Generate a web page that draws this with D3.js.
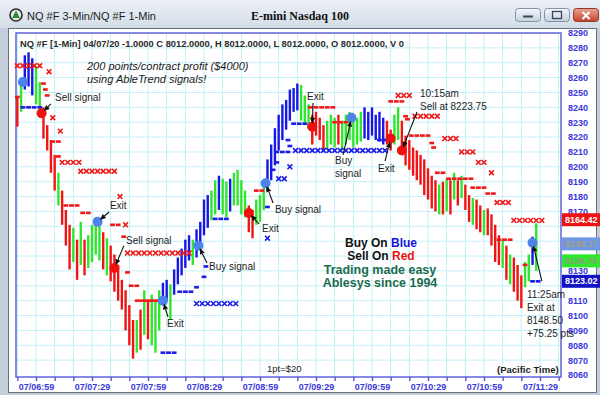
<!DOCTYPE html>
<html>
<head>
<meta charset="utf-8">
<script src="https://cdn.jsdelivr.net/npm/d3@7"></script>
<style>
  body { margin: 0; background: #fff; }
  svg { display: block; }
  text { font-family: Arial, "Liberation Sans", sans-serif; }
</style>
</head>
<body>
<svg id="chart" width="600" height="395"></svg>
<script>
// ##### Data

// Price axis (points) and time axis (minutes since midnight, Pacific)
var priceTicks = [8060, 8070, 8080, 8090, 8100, 8110, 8120, 8130, 8140, 8150, 8160, 8170,
                  8180, 8190, 8200, 8210, 8220, 8230, 8240, 8250, 8260, 8270, 8280, 8290];
var timeTicks = [419, 449, 479, 509, 539, 569, 599, 629, 659, 689];
var timeLabels = ['07/06:59', '07/07:29', '07/07:59', '07/08:29', '07/08:59',
                  '07/09:29', '07/09:59', '07/10:29', '07/10:59', '07/11:29'];
var minorTimes = [409, 419, 429, 439, 449, 459, 469, 479, 489, 499, 509, 519, 529, 539, 549,
                  559, 569, 579, 589, 599, 609, 619, 629, 639, 649, 659, 669, 679, 689, 699];

// Price bars, one every 2 minutes starting 06:49
var barStart = 409, barStep = 2;
var barHigh = [
  8247, 8258, 8275, 8277, 8273, 8268, 8257, 8240, 8228, 8218,
  8208, 8196, 8184, 8171, 8161, 8159, 8151, 8163, 8151, 8154,
  8161, 8166, 8160, 8156, 8152, 8147, 8141, 8134, 8124, 8117,
  8107, 8097, 8097, 8104, 8117, 8110, 8114, 8110, 8117, 8122,
  8124, 8121, 8131, 8139, 8145, 8151, 8154, 8151, 8158, 8163,
  8178, 8181, 8184, 8191, 8194, 8192, 8190, 8192, 8196, 8198,
  8191, 8184, 8174, 8171, 8178, 8181, 8190, 8205, 8215, 8226,
  8235, 8242, 8245, 8252, 8253, 8256, 8255, 8248, 8242, 8235,
  8237, 8233, 8228, 8231, 8235, 8233, 8235, 8231, 8235, 8237,
  8235, 8233, 8237, 8240, 8237, 8240, 8235, 8237, 8233, 8231,
  8225, 8235, 8240, 8231, 8221, 8218, 8213, 8211, 8208, 8205,
  8199, 8194, 8191, 8188, 8190, 8192, 8191, 8196, 8191, 8194,
  8188, 8181, 8179, 8178, 8174, 8171, 8172, 8168, 8161, 8154,
  8151, 8147, 8141, 8139, 8134, 8127, 8136, 8141, 8153, 8162
];
var barLow = [
  8227, 8237, 8252, 8254, 8248, 8242, 8233, 8219, 8211, 8196,
  8184, 8174, 8161, 8147, 8131, 8136, 8124, 8134, 8127, 8132,
  8136, 8141, 8137, 8131, 8127, 8123, 8116, 8110, 8104, 8090,
  8080, 8071, 8075, 8077, 8087, 8084, 8080, 8075, 8090, 8107,
  8110, 8097, 8114, 8121, 8127, 8132, 8137, 8134, 8139, 8145,
  8154, 8159, 8164, 8168, 8171, 8168, 8166, 8170, 8174, 8174,
  8168, 8166, 8156, 8152, 8161, 8163, 8171, 8184, 8191, 8201,
  8211, 8218, 8225, 8231, 8237, 8238, 8231, 8228, 8226, 8215,
  8221, 8218, 8211, 8211, 8215, 8213, 8215, 8211, 8215, 8218,
  8213, 8215, 8217, 8219, 8218, 8221, 8218, 8217, 8215, 8215,
  8211, 8215, 8218, 8210, 8201, 8198, 8194, 8191, 8188, 8181,
  8178, 8172, 8170, 8168, 8168, 8170, 8168, 8178, 8174, 8179,
  8171, 8163, 8161, 8158, 8156, 8154, 8154, 8147, 8136, 8134,
  8132, 8124, 8121, 8116, 8110, 8105, 8119, 8123, 8134, 8130
];
// R = down (red), G = neutral (green), B = up (blue)
var barColor = ('RGBBBGGRRR' + 'RGRRRGRGRG' + 'GGGRGRRRRR' + 'RRGRGRGGGB' + 'BGBBBBBGBB' +
                'BBGGBGGBGG' + 'GGRRGGGBBB' + 'BBBBBBGGGR' + 'RRRGGGRGGG' + 'GGGBBBBBBR' +
                'RGGRRRRRRR' + 'RRRGRGRGRG' + 'RRGRRGRRRR' + 'GRGRRRGGBG').split('');

// Stop markers: [from time, to time, price, kind] ; one marker every 3 minutes
// kind: x = cross, d = dash, l = solid line
var redStops = [
  [409, 410, 8247, 'd'], [409, 421, 8268, 'x'], [423, 423, 8256, 'd'], [424, 424, 8252, 'd'],
  [425, 425, 8248, 'd'], [426, 426, 8264, 'x'], [428, 428, 8233, 'x'], [432, 432, 8224, 'x'],
  [428, 431, 8217, 'd'], [431, 431, 8207, 'd'], [433, 442, 8203, 'x'], [443, 461, 8197, 'x'],
  [435, 441, 8174, 'd'], [444, 447, 8169, 'd'], [464, 464, 8180, 'x'], [460, 463, 8161, 'd'],
  [467, 467, 8161, 'x'], [466, 466, 8153, 'd'], [468, 501, 8142, 'x'], [468, 468, 8129, 'd'],
  [470, 473, 8120, 'd'], [473, 485, 8110, 'l'], [537, 540, 8184, 'd'], [566, 578, 8240, 'd'],
  [579, 587, 8230, 'd'], [609, 615, 8244, 'd'], [613, 619, 8248, 'x'], [617, 617, 8234, 'd'],
  [618, 618, 8232, 'd'], [622, 634, 8234, 'x'], [620, 629, 8221, 'd'], [631, 631, 8216, 'd'],
  [632, 632, 8213, 'd'], [638, 644, 8219, 'x'], [647, 653, 8210, 'x'], [656, 659, 8203, 'x'],
  [663, 663, 8196, 'x'], [634, 637, 8196, 'd'], [640, 652, 8192, 'd'], [653, 659, 8186, 'd'],
  [661, 664, 8182, 'd'], [666, 672, 8176, 'x'], [675, 690, 8164, 'x'], [667, 673, 8151, 'd'],
  [681, 683, 8134, 'd']
];
var blueStops = [
  [412, 421, 8240, 'd'], [487, 493, 8075, 'd'], [496, 502, 8116, 'd'], [505, 507, 8119, 'd'],
  [509, 509, 8126, 'd'], [510, 510, 8133, 'd'], [505, 526, 8108, 'x'], [515, 521, 8165, 'd'],
  [543, 543, 8173, 'd'], [543, 543, 8152, 'x'], [546, 546, 8198, 'd'], [548, 548, 8203, 'd'],
  [548, 554, 8210, 'd'], [549, 552, 8192, 'x'], [555, 555, 8200, 'x'], [554, 554, 8218, 'd'],
  [555, 555, 8214, 'd'], [557, 563, 8229, 'd'], [558, 606, 8211, 'x'], [603, 606, 8218, 'd'],
  [685, 688, 8123, 'd']
];

// Signal dots
var signalTimes  = [412, 422, 452, 461, 487, 506, 533, 542, 567, 588, 609, 615, 685];
var signalPrices = [8257, 8236, 8163, 8132, 8110, 8147, 8169, 8189, 8227, 8233, 8219, 8211, 8149];
var signalSides  = ['B', 'S', 'B', 'S', 'B', 'B', 'S', 'B', 'S', 'B', 'S', 'S', 'B'];

// Annotations: text lines, text position, arrow start, signal pointed at
var noteText = [['Sell signal'], ['Exit'], ['Sell signal'], ['Exit'], ['Buy signal'], ['Exit'],
                ['Buy signal'], ['Exit'], ['Buy', 'signal'], ['Exit'], ['10:15am', 'Sell at 8223.75'],
                ['11:25am', 'Exit at', '8148.50', '+75.25 pts']];
var notePos = [[429.2, 8244.3], [458.6, 8171.6], [467.2, 8148.3], [489.2, 8092.3], [511.7, 8130.6],
               [540.1, 8156.2], [547.0, 8168.9], [564.2, 8245.0], [579.2, 8202.0], [602.2, 8196.5],
               [624.7, 8247.0], [682.0, 8111.8]];
var noteFrom = [[427.0, 8242.3], [458.1, 8169.6], [466.1, 8147.0], [489.7, 8099.0], [510.6, 8135.3],
                [538.5, 8161.6], [546.0, 8175.7], [567.4, 8242.9], [583.5, 8208.0], [606.0, 8203.9],
                [623.1, 8236.9], [690.0, 8123.2]];
var noteSignal = [1, 2, 3, 4, 5, 6, 7, 8, 9, 10, 11, 12];

// Last-value boxes on the price axis
var boxValues = [8164.42, 8148.17, 8136.75, 8123.02];
var boxFill = ['#ee1414', '#6e98e4', '#2ee82e', '#1414c4'];
var boxText = ['#ffffff', '#a89f86', '#8c9c78', '#ffffff'];


// ##### Setup
var svg = d3.select('#chart');
var plotLeft = 16, plotRight = 561, plotTop = 33, plotBottom = 377;
var axisBlue = '#3838dc';

var x = d3.scaleLinear().domain([419, 689]).range([36, 540]);
var y = d3.scaleLinear().domain([8060, 8290]).range([375, 33]);

var colours = { R: '#f01414', G: '#2ee62e', B: '#1717e8' };


// ##### Window chrome
var defs = svg.append('defs');
var tg = defs.append('linearGradient').attr('id', 'titleGrad').attr('x1', 0).attr('x2', 0).attr('y1', 0).attr('y2', 1);
tg.append('stop').attr('offset', '0%').attr('stop-color', '#edf1f6');
tg.append('stop').attr('offset', '100%').attr('stop-color', '#d3dce7');
var bg = defs.append('linearGradient').attr('id', 'btnGrad').attr('x1', 0).attr('x2', 0).attr('y1', 0).attr('y2', 1);
bg.append('stop').attr('offset', '0%').attr('stop-color', '#f4f7fb');
bg.append('stop').attr('offset', '100%').attr('stop-color', '#c6d1de');
var cg = defs.append('linearGradient').attr('id', 'closeGrad').attr('x1', 0).attr('x2', 0).attr('y1', 0).attr('y2', 1);
cg.append('stop').attr('offset', '0%').attr('stop-color', '#eba593');
cg.append('stop').attr('offset', '100%').attr('stop-color', '#c7412a');

svg.append('rect').attr('width', 600).attr('height', 395).attr('fill', '#c4cedb');
svg.append('rect').attr('width', 600).attr('height', 28).attr('fill', 'url(#titleGrad)');
svg.append('rect').attr('x', 8.5).attr('y', 28.5).attr('width', 588).attr('height', 364)
  .attr('fill', '#ffffff').attr('stroke', '#66727f');

// title icon
svg.append('circle').attr('cx', 16).attr('cy', 15).attr('r', 6).attr('fill', '#e9eee9').attr('stroke', '#2b2b2b').attr('stroke-width', 1.6);
svg.append('path').attr('d', 'M16,10.5L20,18L12,18Z').attr('fill', '#2f8a3e');

svg.append('text').attr('x', 27).attr('y', 20).attr('font-size', 11).attr('fill', '#1e1e1e')
  .text('NQ #F 3-Min/NQ #F 1-Min');
svg.append('text').attr('x', 251).attr('y', 20).attr('font-size', 12).attr('font-weight', 'bold')
  .style('font-family', '"Liberation Serif", "Times New Roman", serif').attr('fill', '#111')
  .text('E-mini Nasdaq 100');

// window buttons
svg.append('rect').attr('x', 515.5).attr('y', 8.5).attr('width', 25).attr('height', 13).attr('rx', 3)
  .attr('fill', 'url(#btnGrad)').attr('stroke', '#8493a6');
svg.append('rect').attr('x', 523).attr('y', 15.5).attr('width', 10).attr('height', 2).attr('fill', '#3a4657');
svg.append('rect').attr('x', 544.5).attr('y', 8.5).attr('width', 25).attr('height', 13).attr('rx', 3)
  .attr('fill', 'url(#btnGrad)').attr('stroke', '#8493a6');
svg.append('rect').attr('x', 552.5).attr('y', 11.5).attr('width', 9).attr('height', 7)
  .attr('fill', 'none').attr('stroke', '#3a4657').attr('stroke-width', 1.3);
svg.append('rect').attr('x', 573.5).attr('y', 8.5).attr('width', 25).attr('height', 13).attr('rx', 3)
  .attr('fill', 'url(#closeGrad)').attr('stroke', '#8b3a2c');
svg.append('path').attr('d', 'M582.5,12L589.5,19M589.5,12L582.5,19').attr('stroke', '#fff').attr('stroke-width', 2);


// ##### Grid and axes
var grid = svg.append('g').attr('class', 'grid');
grid.selectAll('line.h')
  .data(priceTicks.filter(function(p) { return p > 8060 && p < 8290; }))
  .enter().append('line')
  .attr('x1', plotLeft).attr('x2', plotRight)
  .attr('y1', function(d) { return y(d); }).attr('y2', function(d) { return y(d); })
  .attr('stroke', '#c4eff6').attr('stroke-width', 1);
grid.selectAll('line.v')
  .data(minorTimes)
  .enter().append('line')
  .attr('x1', function(d) { return x(d); }).attr('x2', function(d) { return x(d); })
  .attr('y1', plotTop).attr('y2', plotBottom)
  .attr('stroke', '#c4eff6').attr('stroke-width', 1);

svg.append('rect').attr('x', plotLeft).attr('y', plotTop)
  .attr('width', plotRight - plotLeft).attr('height', plotBottom - plotTop)
  .attr('fill', 'none').attr('stroke', '#5656da').attr('stroke-width', 1.4);

var xAxis = svg.append('g')
  .attr('transform', 'translate(0,' + plotBottom + ')')
  .call(d3.axisBottom(x).tickValues(minorTimes).tickSize(4).tickSizeOuter(0)
    .tickFormat(function(t) {
      var i = timeTicks.indexOf(t);
      return i < 0 ? '' : timeLabels[i];
    }));
xAxis.select('.domain').remove();
xAxis.selectAll('line').attr('stroke', '#5656da').attr('stroke-width', 1.4);
xAxis.selectAll('text').attr('fill', axisBlue).attr('font-size', 9).attr('font-weight', 'bold')
  .style('font-family', 'Arial, "Liberation Sans", sans-serif');

// price labels hidden behind the last-value boxes are left out
function underBox(p) {
  return boxValues.some(function(b) { return Math.abs(y(b) - y(p)) < 7.5; });
}
var yAxis = svg.append('g')
  .attr('transform', 'translate(' + plotRight + ',0)')
  .call(d3.axisRight(y).tickValues(priceTicks.filter(function(p) { return !underBox(p); }))
    .tickSize(0).tickPadding(7).tickFormat(d3.format('d')));
yAxis.select('.domain').remove();
yAxis.selectAll('text').attr('fill', axisBlue).attr('font-size', 9).attr('font-weight', 'bold')
  .style('font-family', 'Arial, "Liberation Sans", sans-serif');


// ##### Header texts
svg.append('text').attr('x', 20).attr('y', 47).attr('font-size', 9).attr('font-weight', 'bold')
  .attr('fill', '#2a2a2a').attr('textLength', 384).attr('lengthAdjust', 'spacingAndGlyphs')
  .text('NQ #F [1-Min] 04/07/20  -1.0000 C 8012.0000, H 8012.0000, L 8012.0000, O 8012.0000, V 0');
svg.append('text').attr('x', 87).attr('y', 70).attr('font-size', 11).attr('font-style', 'italic')
  .attr('fill', '#1a1a1a').text('200 points/contract profit ($4000)');
svg.append('text').attr('x', 87).attr('y', 83).attr('font-size', 11).attr('font-style', 'italic')
  .attr('fill', '#1a1a1a').text('using AbleTrend signals!');


// ##### Price bars
var bars = svg.append('g').attr('class', 'bars')
  .selectAll('line')
  .data(barHigh)
  .enter().append('line')
  .attr('x1', function(d, i) { return x(barStart + i * barStep); })
  .attr('x2', function(d, i) { return x(barStart + i * barStep); })
  .attr('y1', function(d) { return y(d); })
  .attr('y2', function(d, i) { return y(barLow[i]); })
  .attr('stroke', function(d, i) { return colours[barColor[i]]; })
  .attr('stroke-width', 2.4);


// ##### Stop markers
function expandRuns(runs) {
  var pts = [];
  runs.forEach(function(r) {
    if (r[3] === 'l') return;
    for (var t = r[0]; t <= r[1]; t += 3) pts.push({ t: t, p: r[2], kind: r[3] });
  });
  return pts;
}

function drawStops(runs, colour) {
  var g = svg.append('g');
  var pts = expandRuns(runs);
  g.selectAll('path.x')
    .data(pts.filter(function(d) { return d.kind === 'x'; }))
    .enter().append('path')
    .attr('d', 'M-2.4,-2.4L2.4,2.4M-2.4,2.4L2.4,-2.4')
    .attr('transform', function(d) { return 'translate(' + x(d.t) + ',' + y(d.p) + ')'; })
    .attr('stroke', colour).attr('stroke-width', 1.6).attr('fill', 'none');
  g.selectAll('rect.d')
    .data(pts.filter(function(d) { return d.kind === 'd'; }))
    .enter().append('rect')
    .attr('x', function(d) { return x(d.t) - 2.4; })
    .attr('y', function(d) { return y(d.p) - 1.3; })
    .attr('width', 4.8).attr('height', 2.6)
    .attr('fill', colour);
  g.selectAll('line.l')
    .data(runs.filter(function(r) { return r[3] === 'l'; }))
    .enter().append('line')
    .attr('x1', function(r) { return x(r[0]) - 2; })
    .attr('x2', function(r) { return x(r[1]) + 2; })
    .attr('y1', function(r) { return y(r[2]); })
    .attr('y2', function(r) { return y(r[2]); })
    .attr('stroke', colour).attr('stroke-width', 2.6);
}

drawStops(redStops, '#f01818');
drawStops(blueStops, '#1c1ce8');


// ##### Signal dots
svg.append('g').selectAll('circle')
  .data(signalTimes)
  .enter().append('circle')
  .attr('cx', function(d) { return x(d); })
  .attr('cy', function(d, i) { return y(signalPrices[i]); })
  .attr('r', 5)
  .attr('fill', function(d, i) { return signalSides[i] === 'B' ? '#4c82ea' : '#f01010'; });


// ##### Annotations
var notes = svg.append('g').attr('class', 'notes');

function drawArrow(x1, y1, x2, y2) {
  var dx = x2 - x1, dy = y2 - y1, len = Math.sqrt(dx * dx + dy * dy);
  var ux = dx / len, uy = dy / len;
  var tipX = x2 - ux * 3, tipY = y2 - uy * 3;
  var baseX = tipX - ux * 6, baseY = tipY - uy * 6;
  notes.append('line').attr('x1', x1).attr('y1', y1).attr('x2', baseX).attr('y2', baseY)
    .attr('stroke', '#111').attr('stroke-width', 1.1);
  notes.append('path')
    .attr('d', 'M' + tipX + ',' + tipY +
               'L' + (baseX - uy * 2.6) + ',' + (baseY + ux * 2.6) +
               'L' + (baseX + uy * 2.6) + ',' + (baseY - ux * 2.6) + 'Z')
    .attr('fill', '#111');
}

noteText.forEach(function(lines, i) {
  var s = noteSignal[i];
  drawArrow(x(noteFrom[i][0]), y(noteFrom[i][1]), x(signalTimes[s]), y(signalPrices[s]));
  var t = notes.append('text')
    .attr('x', x(notePos[i][0])).attr('y', y(notePos[i][1]))
    .attr('font-size', 10).attr('fill', '#1e1e1e');
  lines.forEach(function(line, k) {
    t.append('tspan').attr('x', x(notePos[i][0])).attr('dy', k === 0 ? 0 : 13).text(line);
  });
});


// ##### Promo texts
var promo = svg.append('g').attr('font-weight', 'bold').attr('text-anchor', 'middle').attr('font-size', 12);
var l1 = promo.append('text').attr('x', 381).attr('y', 247);
l1.append('tspan').attr('fill', '#111').text('Buy On ');
l1.append('tspan').attr('fill', '#1515e0').text('Blue');
var l2 = promo.append('text').attr('x', 381).attr('y', 260);
l2.append('tspan').attr('fill', '#111').text('Sell On ');
l2.append('tspan').attr('fill', '#ee1111').text('Red');
promo.append('text').attr('x', 380).attr('y', 274).attr('font-size', 12.5).attr('fill', '#1b6b4e').text('Trading made easy');
promo.append('text').attr('x', 380).attr('y', 287).attr('font-size', 12.5).attr('fill', '#1b6b4e').text('Ablesys since 1994');

svg.append('text').attr('x', 267).attr('y', 372).attr('font-size', 9.5).attr('fill', '#1e1e1e').text('1pt=$20');
svg.append('text').attr('x', 497).attr('y', 373).attr('font-size', 9.5).attr('font-weight', 'bold')
  .attr('fill', '#1e1e1e').text('(Pacific Time)');


// ##### Last-value boxes on the price axis
var boxes = svg.append('g').selectAll('g')
  .data(boxValues)
  .enter().append('g')
  .attr('transform', function(d) { return 'translate(562,' + y(d) + ')'; });
boxes.append('rect').attr('x', 0).attr('y', -6.5).attr('width', 38).attr('height', 13)
  .attr('fill', function(d, i) { return boxFill[i]; });
boxes.append('text').attr('x', 3).attr('dy', '0.35em').attr('font-size', 9).attr('font-weight', 'bold')
  .attr('fill', function(d, i) { return boxText[i]; })
  .text(function(d) { return d.toFixed(2); });

// the last exit note is written over the price axis
notes.raise();
</script>
</body>
</html>
